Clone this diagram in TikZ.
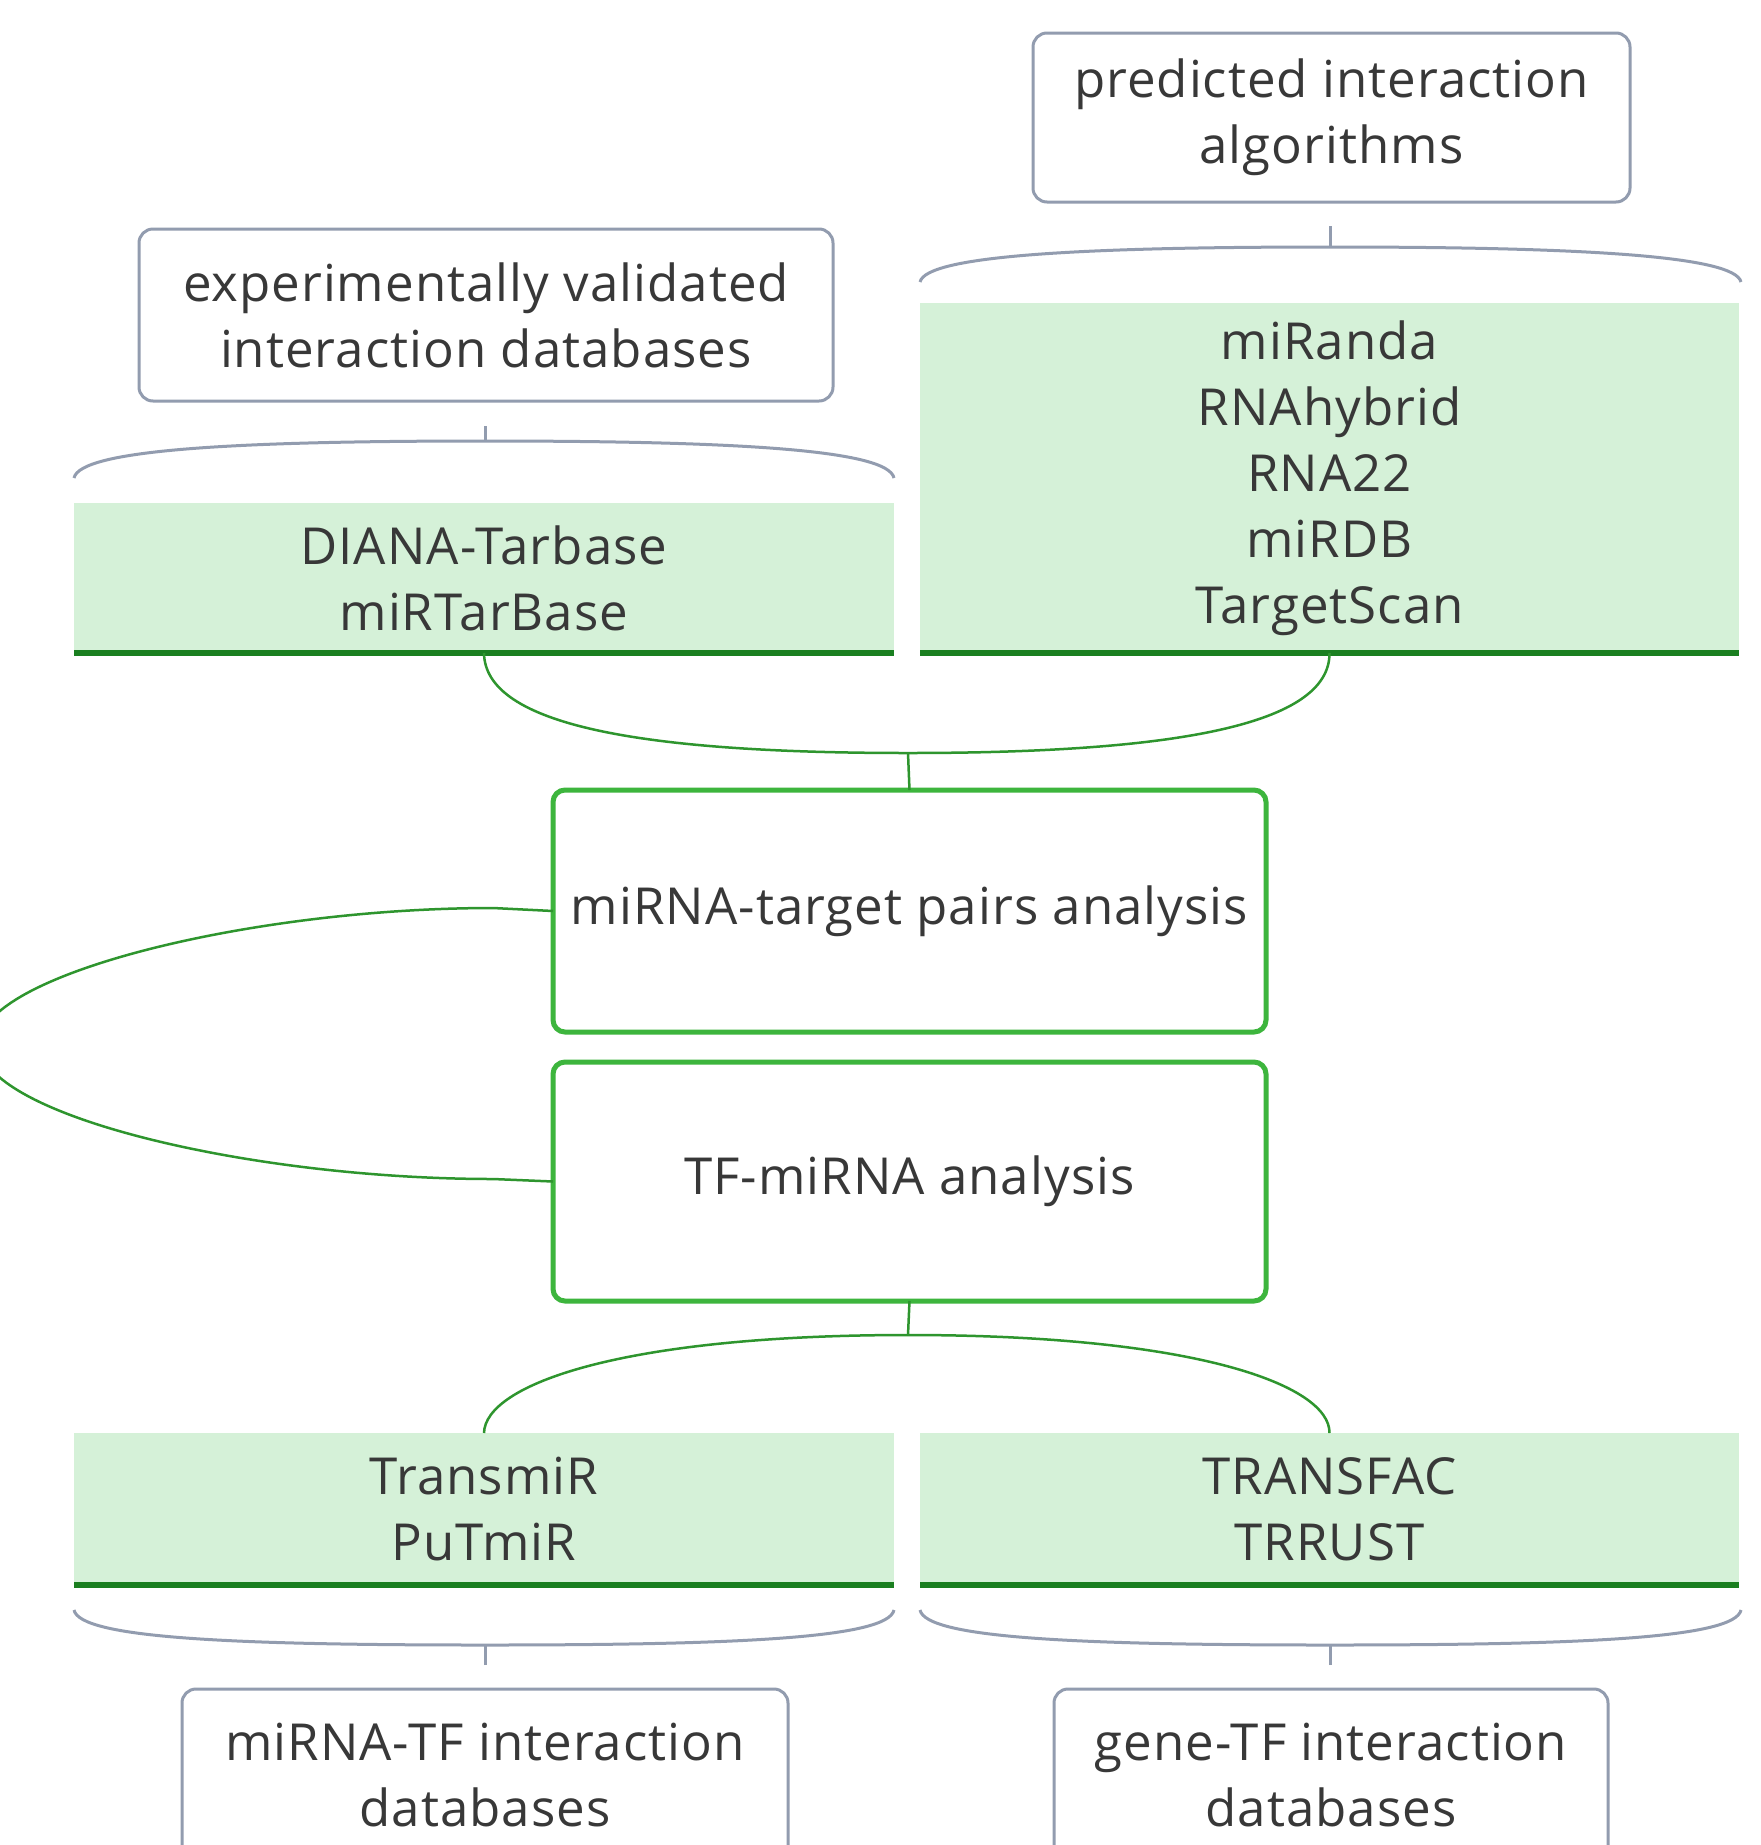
\documentclass[tikz,border=0pt]{standalone}
\usepackage{fontspec}
\setmainfont[LetterSpace=2]{Open Sans}
\definecolor{graybd}{HTML}{929CAF}
\definecolor{greenfill}{HTML}{D5F1D8}
\definecolor{darkgreen}{HTML}{1A7F20}
\definecolor{boxgreen}{HTML}{3DB53D}
\definecolor{linkgreen}{HTML}{2E952E}
\definecolor{txt}{HTML}{383838}
\tikzset{
  graybox/.style={draw=graybd, line width=3pt, rounded corners=14pt, fill=white},
  greenbox/.style={fill=greenfill},
  anbox/.style={draw=boxgreen, line width=5pt, rounded corners=12pt, fill=white},
  baseline line/.style={draw=darkgreen, line width=6pt},
  link/.style={draw=linkgreen, line width=2.5pt},
  brace/.style={draw=graybd, line width=3pt}
}
\begin{document}
\begin{tikzpicture}[x=1pt,y=-1pt,
  every node/.style={inner sep=0pt, outer sep=0pt, text=txt,
    font=\fontsize{51}{66}\selectfont, align=center}]
\useasboundingbox[fill=white] (0,0) rectangle (1761,1845);

% top gray boxes
\node[graybox, minimum width=597pt, minimum height=169pt] (pred) at (1331.5,117.5) {predicted interaction\\algorithms};
\node[graybox, minimum width=694pt, minimum height=172pt] (exp) at (486,315) {experimentally validated\\interaction databases};

% green database boxes
\node[greenbox, minimum width=819pt, minimum height=350pt] (gr) at (1329.5,478) {miRanda\\RNAhybrid\\RNA22\\miRDB\\TargetScan};
\node[greenbox, minimum width=820pt, minimum height=150pt] (gl) at (484,578) {DIANA-Tarbase\\miRTarBase};
\node[greenbox, minimum width=820pt, minimum height=152pt] (bl) at (484,1509) {TransmiR\\PuTmiR};
\node[greenbox, minimum width=819pt, minimum height=152pt] (br) at (1329.5,1509) {TRANSFAC\\TRRUST};
\foreach \n in {gr,gl,bl,br}{\draw[baseline line] (\n.south west) -- (\n.south east);}

% analysis boxes
\node[anbox, minimum width=713pt, minimum height=242pt] (mt) at (909.5,911) {miRNA-target pairs analysis};
\node[anbox, minimum width=713pt, minimum height=239pt] (tf) at (909.5,1181.5) {TF-miRNA analysis};

% bottom gray boxes
\node[graybox, minimum width=606pt, minimum height=172pt] (dbl) at (485,1775) {miRNA-TF interaction\\databases};
\node[graybox, minimum width=554pt, minimum height=172pt] (dbr) at (1331,1775) {gene-TF interaction\\databases};

% braces
\coordinate (tl0) at (485,426); \coordinate (tl1) at (485,441);
\coordinate (tr0) at (1330,226); \coordinate (tr1) at (1330,247);
\coordinate (bl0) at (485,1665); \coordinate (bl1) at (485,1645);
\coordinate (br0) at (1330,1665); \coordinate (br1) at (1330,1645);
\draw[brace] (tl0) -- (tl1);
\draw[brace] (74,478) .. controls (80,450) and (230,441) .. (tl1) .. controls (740,441) and (888,450) .. (894,478);
\draw[brace] (tr0) -- (tr1);
\draw[brace] (920,282) .. controls (926,256) and (1075,247) .. (tr1) .. controls (1585,247) and (1735,256) .. (1741,282);
\draw[brace] (bl0) -- (bl1);
\draw[brace] (74,1610) .. controls (80,1638) and (230,1645) .. (bl1) .. controls (740,1645) and (888,1638) .. (894,1610);
\draw[brace] (br0) -- (br1);
\draw[brace] (920,1610) .. controls (926,1638) and (1075,1645) .. (br1) .. controls (1585,1645) and (1735,1638) .. (1741,1610);

% green connectors
\coordinate (jt) at (908,753);
\coordinate (jb) at (908,1335);
\draw[link] (gl.south) .. controls (485,725) and (640,753) .. (jt) .. controls (1175,753) and (1330,725) .. (gr.south);
\draw[link] (jt) -- (mt.north);
\draw[link] (tf.south) -- (jb);
\draw[link] (bl.north) .. controls (485,1385) and (620,1335) .. (jb) .. controls (1195,1335) and (1330,1385) .. (br.north);
\draw[link] (mt.west) -- (493,908) .. controls (250,908) and (-20,975) .. (-20,1044) .. controls (-20,1115) and (250,1179) .. (493,1179) -- (tf.west);
\end{tikzpicture}
\end{document}
